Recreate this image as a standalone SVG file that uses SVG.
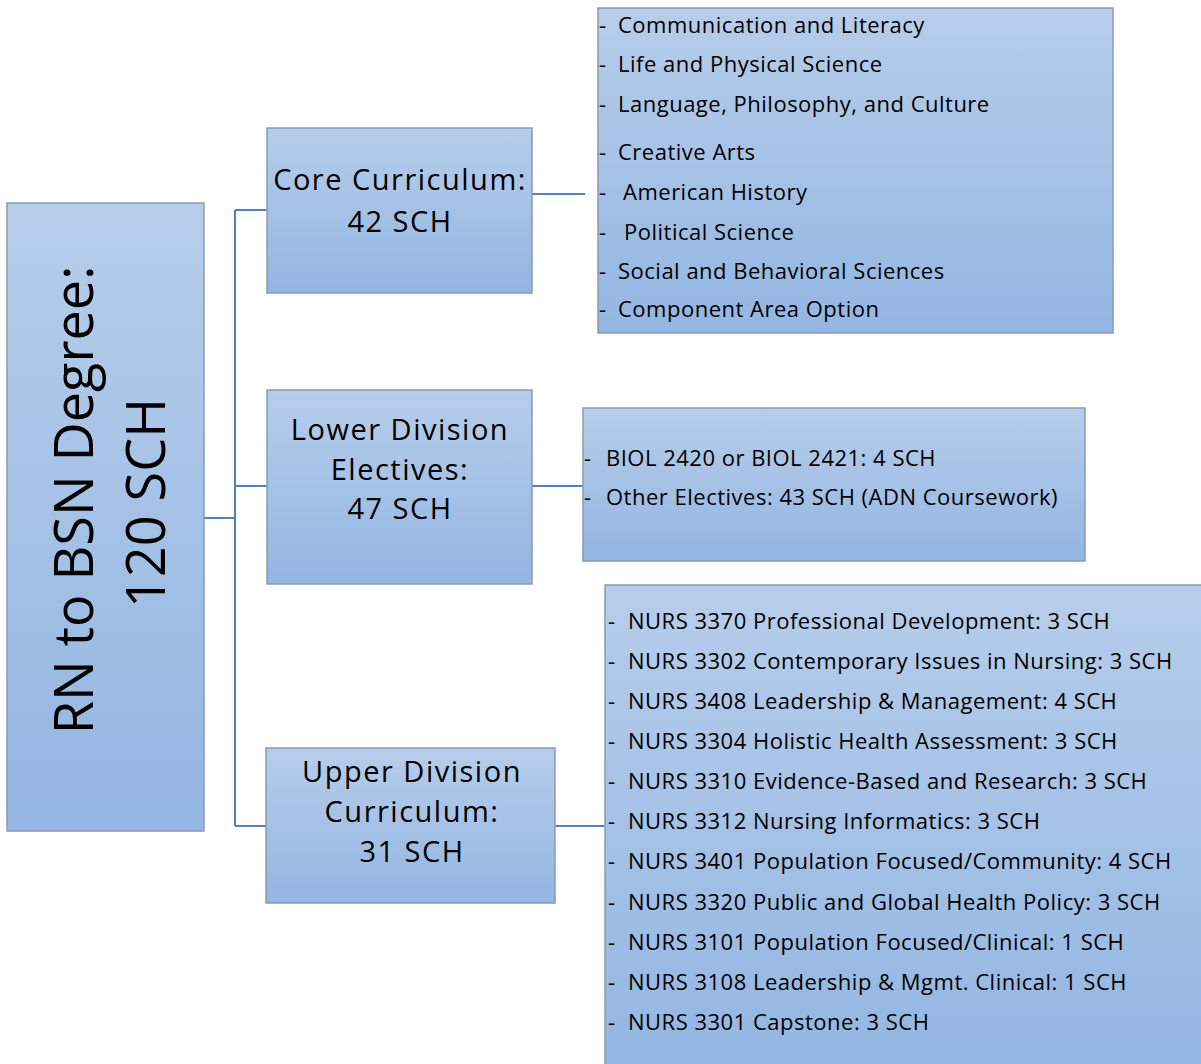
<svg xmlns="http://www.w3.org/2000/svg" width="1201" height="1064" viewBox="0 0 1201 1064">
<defs>
<linearGradient id="g" x1="0" y1="0" x2="0" y2="1">
<stop offset="0" stop-color="#b7cdea"/>
<stop offset="1" stop-color="#93b6e2"/>
</linearGradient>
</defs>
<style>
.box{fill:url(#g);stroke:#8a9ab0;stroke-width:1.5}
.big{font-family:"Open Sans",sans-serif;font-size:29px;letter-spacing:1.5px;fill:#000;text-anchor:middle}
.main{font-family:"Open Sans",sans-serif;font-size:54px;fill:#000;text-anchor:middle}
.li{font-family:"Open Sans",sans-serif;font-size:22px;letter-spacing:0.5px;fill:#000}
.con{fill:none;stroke:#4f81bd;stroke-width:2}
</style>
<rect width="1201" height="1064" fill="#fff"/>
<g id="connectors">
<path class="con" d="M204 518H235M235 210V826M235 210H267M235 486H267M235 826H266"/>
<path class="con" d="M532 194H585M532 486H583M555 826H605"/>
</g>
<g id="root">
<rect class="box" x="7" y="203" width="197" height="628"/>
<text class="main" transform="translate(93 500) rotate(-90)">RN to BSN Degree:</text>
<text class="main" transform="translate(165 503) rotate(-90)">120 SCH</text>
</g>
<g id="core">
<rect class="box" x="267" y="128" width="265" height="165"/>
<text class="big" x="400" y="190">Core Curriculum:</text>
<text class="big" x="400" y="232">42 SCH</text>
</g>
<g id="core-list">
<rect class="box" x="598" y="8" width="515" height="325"/>
<text class="li" x="599" y="33">-</text><text class="li" x="618" y="33">Communication and Literacy</text>
<text class="li" x="599" y="72">-</text><text class="li" x="618" y="72">Life and Physical Science</text>
<text class="li" x="599" y="112">-</text><text class="li" x="618" y="112">Language, Philosophy, and Culture</text>
<text class="li" x="599" y="160">-</text><text class="li" x="618" y="160">Creative Arts</text>
<text class="li" x="599" y="200">-</text><text class="li" x="623" y="200">American History</text>
<text class="li" x="599" y="240">-</text><text class="li" x="624" y="240">Political Science</text>
<text class="li" x="599" y="279">-</text><text class="li" x="618" y="279">Social and Behavioral Sciences</text>
<text class="li" x="599" y="317">-</text><text class="li" x="618" y="317">Component Area Option</text>
</g>
<g id="lower">
<rect class="box" x="267" y="390" width="265" height="194"/>
<text class="big" x="400" y="440">Lower Division</text>
<text class="big" x="400" y="480">Electives:</text>
<text class="big" x="400" y="519">47 SCH</text>
</g>
<g id="lower-list">
<rect class="box" x="583" y="408" width="502" height="153"/>
<text class="li" x="584" y="466">-</text><text class="li" x="606" y="466">BIOL 2420 or BIOL 2421: 4 SCH</text>
<text class="li" x="584" y="505">-</text><text class="li" x="606" y="505">Other Electives: 43 SCH (ADN Coursework)</text>
</g>
<g id="upper">
<rect class="box" x="266" y="748" width="289" height="155"/>
<text class="big" x="412" y="782">Upper Division</text>
<text class="big" x="412" y="822">Curriculum:</text>
<text class="big" x="412" y="862">31 SCH</text>
</g>
<g id="upper-list">
<rect class="box" x="605" y="585" width="600" height="485"/>
<text class="li" x="608" y="629">-</text><text class="li" x="628" y="629">NURS 3370 Professional Development: 3 SCH</text>
<text class="li" x="608" y="669">-</text><text class="li" x="628" y="669">NURS 3302 Contemporary Issues in Nursing: 3 SCH</text>
<text class="li" x="608" y="709">-</text><text class="li" x="628" y="709">NURS 3408 Leadership &amp; Management: 4 SCH</text>
<text class="li" x="608" y="749">-</text><text class="li" x="628" y="749">NURS 3304 Holistic Health Assessment: 3 SCH</text>
<text class="li" x="608" y="789">-</text><text class="li" x="628" y="789">NURS 3310 Evidence-Based and Research: 3 SCH</text>
<text class="li" x="608" y="829">-</text><text class="li" x="628" y="829">NURS 3312 Nursing Informatics: 3 SCH</text>
<text class="li" x="608" y="869">-</text><text class="li" x="628" y="869">NURS 3401 Population Focused/Community: 4 SCH</text>
<text class="li" x="608" y="910">-</text><text class="li" x="628" y="910">NURS 3320 Public and Global Health Policy: 3 SCH</text>
<text class="li" x="608" y="950">-</text><text class="li" x="628" y="950">NURS 3101 Population Focused/Clinical: 1 SCH</text>
<text class="li" x="608" y="990">-</text><text class="li" x="628" y="990">NURS 3108 Leadership &amp; Mgmt. Clinical: 1 SCH</text>
<text class="li" x="608" y="1030">-</text><text class="li" x="628" y="1030">NURS 3301 Capstone: 3 SCH</text>
</g>
</svg>
